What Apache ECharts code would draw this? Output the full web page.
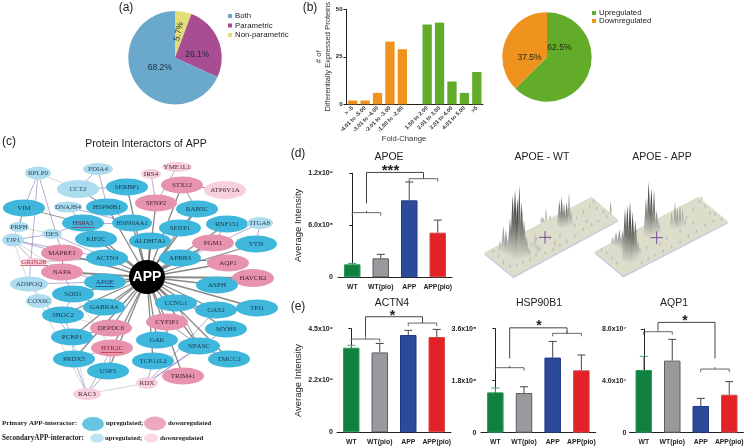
<!DOCTYPE html>
<html><head><meta charset="utf-8">
<style>html,body{margin:0;padding:0;background:#fff}#c{width:748px;height:447px}</style>
<script src="https://cdn.jsdelivr.net/npm/echarts@6/dist/echarts.min.js"></script>
</head><body><div id="c"></div>
<script>
// ---------- (a) pie
const pieANames = ['Non-parametric','Parametric','Both'];
const pieAValues = [5.7,26.1,68.2];
const pieAColors = ['#E2DE78','#A84C93','#6AA9CC'];
// ---------- (b)
const foldLabels = ['> -5','-4.01 to -5.00','-3.01 to -4.00','-2.01 to -3.00','-1.50 to -2.00','','1.50 to 2.00','2.01 to 3.00','3.01 to 4.00','4.01 to 5.00','>5'];
const foldValues = [2,2,6,33,29,null,42,43,12,6,17];
const foldColors = ['#F0921E','#F0921E','#F0921E','#F0921E','#F0921E','#fff','#62AC2A','#62AC2A','#62AC2A','#62AC2A','#62AC2A'];
const pieBNames = ['Upregulated','Downregulated'];
const pieBValues = [62.5,37.5];
const pieBColors = ['#62AC2A','#F0921E'];
// ---------- (d)(e) bars
const groups = ['WT','WT(pio)','APP','APP(pio)'];
const groupFill = ['#0F8040','#9A9A9E','#2B4A9A','#E32227'];
const groupEdge = ['#2E9A5A','#5E5E62','#1E3A86','#D04A4A'];
const apoeMean = [0.15e9,0.219e9,0.888e9,0.515e9];
const apoeErr  = [0.16e9,0.265e9,1.10e9,0.66e9];
const actn4Mean = [3.675e9,3.47e9,4.225e9,4.14e9];
const actn4Err  = [3.78e9,3.86e9,4.43e9,4.47e9];
const hspMean = [1.396e8,1.373e8,2.6e8,2.158e8];
const hspErr  = [1.546e8,1.59e8,3.16e8,2.69e8];
const aqpMean = [4.84e7,5.56e7,2.06e7,2.93e7];
const aqpErr  = [5.89e7,7.2e7,2.65e7,3.94e7];
const apoeTicks = ['0','6.0x10⁸','1.2x10⁹'];
const actn4Ticks = ['0','2.2x10⁹','4.5x10⁹'];
const hspTicks = ['0','1.8x10⁸','3.6x10⁸'];
const aqpTicks = ['0','4.0x10⁷','8.0x10⁷'];
// brackets: [from,to,y] and main [from,to,y,leftEnd,rightEnd]
const apoeSub = [[0,1,0.746e9],[2,3,1.138e9]];
const apoeMain = [[0.5,2.5,1.21e9,0.854e9,1.138e9]];
const actn4Sub = [[0,1,4.05e9],[2,3,4.745e9]];
const actn4Main = [[0.5,2.5,5.02e9,4.15e9,4.745e9]];
const hspSub = [[0,1,2.25e8],[2,3,3.44e8]];
const hspMain = [[0.5,2.5,3.63e8,2.57e8,3.44e8]];
const aqpSub = [[0,1,7.79e7],[2,3,4.91e7]];
const aqpMain = [[0.5,2.5,8.51e7,7.95e7,5.73e7]];
// ---------- (c) network
const nodeNames = ['RPLP0','PDIA4','CCT2','SERBP1','VIM','DNAJB4','HSP90B1','HSPA5','HSP90AA1','PRPH','DES','TJP1','KIF2C','ACTN4','MAPRE1','GRIN2B','NAPA','APOE','ADIPOQ','SOD1','COX6C','GABRA4','SHOC2','DEPDC6','PCBP1','HTR2C','PRDX5','USP5','RAC3','YME1L1','IRS4','STX12','ATP6V1A','SENP2','RAB5C','RNF151','SENP1','ITGA8','ALDH7A1','PGM1','VTN','APBB3','AQP1','HAVCR2','ASPH','CCNG1','TPI1','GAS2','CYFIP1','MYH9','GAK','NFASC','TMCC2','TCP11L2','TRIM41','RDX','APP'];
const nodeX = [38,98,78,127,24,68,107,83,132,19,52,13,96,107,62,34,62,105,29,73,39,104,63,111,72,112,74,108,87,177,151,182,225,156,197,227,180,260,150,213,256,180,228,253,217,176,257,216,167,226,157,199,229,153,183,147,147];
const nodeY = [173,169,189,187,208,207,207,223,223,227,234,240,239,258,253,262,272,282,284,294,301,307,315,328,337,348,359,371,394,167,174,185,190,203,209,224,228,223,241,243,244,258,263,278,285,303,308,310,322,329,340,346,359,361,376,383,277];
const nodeKind = ['S','S','S','P','P','S','P','P','P','S','S','S','P','P','D','L','D','P','S','P','S','P','P','D','P','D','P','P','L','L','L','D','L','D','P','P','P','S','P','D','P','P','D','D','P','P','P','P','D','P','P','P','P','P','D','L','A'];
const customSize = {RPLP0:[26,13],PDIA4:[30,12],CCT2:[42,18],DNAJB4:[28,11],PRPH:[20,10],DES:[20,10],TJP1:[22,13],GRIN2B:[27,8],ADIPOQ:[38,15],COX6C:[26,14],RAC3:[28,12],YME1L1:[30,10],IRS4:[20,10],ATP6V1A:[42,18],ITGA8:[26,12],RDX:[22,12],HAVCR2:[42,18],APP:[36,34],HSP90AA1:[40,17]};
const underlined = ['HSPA5','GRIN2B','APOE','HTR2C'];
const appTargets = ['SERBP1','HSP90B1','HSPA5','HSP90AA1','KIF2C','ACTN4','MAPRE1','NAPA','APOE','SOD1','GABRA4','SHOC2','DEPDC6','PCBP1','HTR2C','PRDX5','USP5','STX12','SENP2','RAB5C','RNF151','SENP1','ALDH7A1','PGM1','VTN','APBB3','AQP1','HAVCR2','ASPH','CCNG1','TPI1','GAS2','CYFIP1','MYH9','GAK','NFASC','TMCC2','TCP11L2','TRIM41'];
const blackLinks = [['VIM','HSPA5'],['STX12','RAB5C'],['RAB5C','SENP1'],['RNF151','PGM1'],['PGM1','APBB3'],['AQP1','APBB3'],['NFASC','CCNG1'],['NFASC','TMCC2'],['GAS2','CCNG1'],['CYFIP1','NFASC'],['STX12','ATP6V1A'],['SOD1','GABRA4'],['PCBP1','DEPDC6'],['VIM','PRPH'],['MAPRE1','NAPA']];
const purpleLinks = [['RPLP0','MAPRE1'],['RPLP0','ADIPOQ'],['ADIPOQ','PCBP1'],['CCT2','PDIA4'],['PDIA4','HSP90B1'],['CCT2','SERBP1'],['CCT2','HSP90AA1'],['CCT2','HSP90B1'],['DNAJB4','HSPA5'],['DNAJB4','HSP90AA1'],['HSPA5','HSP90AA1'],['VIM','RPLP0'],['TJP1','DES'],['TJP1','MAPRE1'],['TJP1','ACTN4'],['DES','HSPA5'],['DES','ACTN4'],['GRIN2B','TJP1'],['GRIN2B','APOE'],['GRIN2B','ACTN4'],['ADIPOQ','APOE'],['PRDX5','RAC3'],['USP5','RAC3'],['HTR2C','RAC3'],['RDX','GAS2'],['RDX','MYH9'],['RDX','NFASC'],['RDX','TCP11L2'],['IRS4','SENP2'],['YME1L1','SENP2'],['ITGA8','VTN'],['ITGA8','APP'],['SOD1','SHOC2'],['SHOC2','PCBP1'],['PCBP1','PRDX5'],['NAPA','SOD1'],['HTR2C','USP5'],['HTR2C','PRDX5']];
const grayLinks = [['RPLP0','CCT2'],['PRPH','DES'],['TJP1','ADIPOQ'],['TJP1','NAPA'],['VIM','TJP1'],['COX6C','RAC3'],['PCBP1','RAC3'],['RAC3','RDX'],['SHOC2','DEPDC6'],['SOD1','HTR2C']];
const legendMarkX = [93,155,97,151];
const legendMarkY = [424,423.5,438,438];
const legendMarkKind = ['P','D','S','L'];
const legendMarkSize = [[22,14],[22,14],[14,9],[14,9]];
// ---------- 3D peak plates (picture units)
const plates = [[72,338,160,410,475,240,395,170],[403,335,490,408,805,245,715,170]];
const crosses = [[255,292],[590,293]];
const wtSpikes = [[120,335,300,6,.2],[130,340,258,8,.35],[138,345,268,8,.4],[150,350,235,9,.55],[158,355,165,9,.85],[165,358,150,10,.95],[172,358,175,9,1],[178,360,135,8,.85],[185,360,185,10,.75],[192,358,240,10,.5],[200,355,290,9,.3],[208,350,320,7,.2],[232,340,312,6,.2],[240,335,318,5,.2],[225,330,270,5,.15],[245,248,230,6,.2],[258,245,205,4,.3],[250,250,232,5,.25],[270,240,225,5,.2],[285,320,298,5,.15],[298,262,180,7,.6],[305,265,170,7,.75],[312,265,190,7,.55],[320,262,185,7,.7],[327,260,158,5,.55],[333,258,210,6,.3],[452,225,182,4,.45]];
const appSpikes = [[458,315,290,7,.2],[468,320,275,9,.3],[478,325,268,9,.4],[488,335,270,8,.45],[495,365,205,9,.75],[502,370,195,9,.9],[510,370,185,9,1],[518,370,215,9,.9],[526,365,240,9,.65],[534,355,300,8,.3],[540,345,320,6,.15],[558,290,175,8,.55],[566,292,125,8,.9],[574,292,145,8,.95],[582,290,150,7,.75],[590,285,210,8,.4],[597,280,240,6,.2],[635,265,215,6,.3],[645,268,185,5,.5],[652,268,205,6,.45],[660,265,195,5,.45],[668,262,205,5,.3],[676,258,235,5,.2]];
const wtNoise = [[100,340,328],[115,355,342],[130,375,360],[150,385,374],[170,382,368],[190,372,360],[210,365,350],[228,352,338],[255,345,332],[280,335,320],[300,322,310],[320,310,296],[345,295,283],[370,275,262],[395,260,248],[415,250,238],[440,235,224],[350,240,228],[370,225,210],[390,205,192],[400,190,178],[410,212,198],[430,222,208],[300,292,280],[270,300,288],[230,305,292],[215,320,305],[345,262,250],[380,250,238]];
const appNoise = [[425,335,322],[440,345,332],[455,360,348],[470,375,362],[545,375,362],[565,362,350],[585,352,338],[610,340,326],[635,328,314],[660,312,300],[685,295,282],[710,280,268],[735,262,250],[760,250,238],[785,245,232],[700,215,202],[720,190,178],[735,205,192],[750,225,212],[680,238,226],[660,280,268],[620,300,288],[600,320,306],[560,330,318],[530,280,268],[700,255,242],[725,180,168],[765,228,216]];
// ---------- free text
const texts = [
 ['(a)',126,8,12,'normal','center','#222','Liberation Sans'],['(b)',310,8,12,'normal','center','#222','Liberation Sans'],
 ['(c)',9,142,12,'normal','center','#222','Liberation Sans'],['(d)',298,154,12,'normal','center','#222','Liberation Sans'],
 ['(e)',298,307,12,'normal','center','#222','Liberation Sans'],
 ['Protein Interactors of APP',146,144,10.5,'normal','center','#222','Liberation Sans'],
 ['Fold-Change',404,139,7.7,'normal','center','#333','Liberation Sans'],
 ['APOE',389,157,10.5,'normal','center','#222','Liberation Sans'],['ACTN4',392,303,10.5,'normal','center','#222','Liberation Sans'],
 ['HSP90B1',539,303,10.5,'normal','center','#222','Liberation Sans'],['AQP1',674,303,10.5,'normal','center','#222','Liberation Sans'],
 ['APOE - WT',542,157,10.5,'normal','center','#222','Liberation Sans'],['APOE - APP',662,157,10.5,'normal','center','#222','Liberation Sans'],
 ['***',390.5,171,15,'bold','center','#222','Liberation Sans'],['*',392.5,316,14,'bold','center','#222','Liberation Sans'],
 ['*',539,326,14,'bold','center','#222','Liberation Sans'],['*',685,321,14,'bold','center','#222','Liberation Sans'],
 ['Primary APP-interactor:',2,423,7,'bold','left','#222','Liberation Serif'],['upregulated;',106,423,6.8,'bold','left','#222','Liberation Serif'],['downregulated',168,423,6.8,'bold','left','#222','Liberation Serif'],
 ['SecondaryAPP-interactor:',2,438,7.2,'bold','left','#222','Liberation Serif'],['upregulated;',105,438,6.8,'bold','left','#222','Liberation Serif'],['downregulated',160,438,6.8,'bold','left','#222','Liberation Serif']
];

// ---------- builders
const SANS='Liberation Sans';
const ELL='path://M0 50A50 50 0 1 1 100 50A50 50 0 1 1 0 50Z';
const kindStyle={P:{c:'#3FB6DB',t:'#143a4e',s:[42,17]},D:{c:'#E793AD',t:'#4a1c2c',s:[42,17]},S:{c:'#AEDCEF',t:'#2a4a5e',s:[30,13]},L:{c:'#F7CFDF',t:'#4a2a36',s:[30,12]},A:{c:'#000',t:'#fff',s:[36,34]}};
const ulColor={HSPA5:'#A0303F',GRIN2B:'#C22D3E',APOE:'#1C3A70',HTR2C:'#B3202F'};
const textColor={GRIN2B:'#B8283A',HTR2C:'#A02030',HSPA5:'#5a2a50',APOE:'#1C3A70'};
const nodes=nodeNames.map((n,i)=>{const k=kindStyle[nodeKind[i]];return {name:n,value:[nodeX[i],nodeY[i]],symbol:ELL,symbolSize:customSize[n]||k.s,itemStyle:{color:k.c},
 label:{show:true,position:'inside',formatter:n,color:textColor[n]||k.t,fontFamily:n==='APP'?SANS:'Liberation Serif',fontSize:n==='APP'?14:(n.length>7?6.6:7),fontWeight:n==='APP'?'bold':'normal'}};});
const links=[];
appTargets.forEach(t=>links.push({source:'APP',target:t,lineStyle:{color:'#111',width:(t==='NAPA'||t==='HAVCR2')?2:1.3}}));
blackLinks.forEach(l=>links.push({source:l[0],target:l[1],lineStyle:{color:'#111',width:.9}}));
purpleLinks.forEach(l=>links.push({source:l[0],target:l[1],lineStyle:{color:'#5B4A9E',width:.9}}));
grayLinks.forEach(l=>links.push({source:l[0],target:l[1],lineStyle:{color:'#9c9a98',width:.8}}));

const panels=[
 {mean:apoeMean,err:apoeErr,ticks:apoeTicks,sub:apoeSub,main:apoeMain,left:338,top:173.3,w:114,h:104,max:1.2e9,iv:6e8},
 {mean:actn4Mean,err:actn4Err,ticks:actn4Ticks,sub:actn4Sub,main:actn4Main,left:337,top:328.7,w:114,h:103.6,max:4.5e9,iv:2.25e9},
 {mean:hspMean,err:hspErr,ticks:hspTicks,sub:hspSub,main:hspMain,left:481,top:328.7,w:114.7,h:104,max:3.6e8,iv:1.8e8},
 {mean:aqpMean,err:aqpErr,ticks:aqpTicks,sub:aqpSub,main:aqpMain,left:629.5,top:329,w:114,h:103.7,max:8e7,iv:4e7}
];
const grids=[{left:346.5,top:9.3,width:136.5,height:95}];
const xAxes=[{type:'category',gridIndex:0,data:foldLabels,axisTick:{show:false},axisLine:{lineStyle:{color:'#222',width:1}},
  axisLabel:{interval:0,rotate:45,fontSize:5.6,margin:3,color:'#333',fontFamily:SANS,fontWeight:'bold'}}];
const yAxes=[{type:'value',gridIndex:0,min:0,max:50,interval:25,splitLine:{show:false},axisLine:{show:true,lineStyle:{color:'#222'}},axisTick:{show:true,length:3,lineStyle:{color:'#222'}},
  axisLabel:{fontSize:6,fontWeight:'bold',margin:4,color:'#222',fontFamily:SANS},
  name:'# of\nDifferentially Expressed Proteins',nameLocation:'middle',nameRotate:90,nameGap:13,nameTextStyle:{fontSize:7.6,lineHeight:9,color:'#333',fontFamily:SANS}}];
const series=[
 {type:'pie',center:[175,57.7],radius:[0,46.7],startAngle:90,clockwise:true,data:pieANames.map((n,i)=>({name:n,value:pieAValues[i],itemStyle:{color:pieAColors[i]},
   label:n==='Non-parametric'?{rotate:78,offset:[0,-1]}:(n==='Both'?{offset:[7,-4]}:{offset:[-2,7]})})),
   label:{position:'inside',formatter:p=>p.value+'%',fontSize:8.5,color:'#1d2a3a',fontFamily:SANS},labelLine:{show:false},silent:true,animation:false},
 {type:'pie',center:[547,57],radius:[0,44.7],startAngle:90,clockwise:true,data:pieBNames.map((n,i)=>({name:n,value:pieBValues[i],itemStyle:{color:pieBColors[i]},
   label:n==='Upregulated'?{offset:[-11,-19]}:{offset:[6,10]}})),
   label:{position:'inside',formatter:p=>p.value+'%',fontSize:8.5,color:'#1f2a12',fontFamily:SANS},labelLine:{show:false},silent:true,animation:false},
 {type:'bar',xAxisIndex:0,yAxisIndex:0,barWidth:9.3,data:foldValues.map((v,i)=>({value:v,itemStyle:{color:foldColors[i]}})),silent:true,animation:false}
];
panels.forEach((p,i)=>{
 const g=i+1;
 grids.push({left:p.left,top:p.top,width:p.w,height:p.h});
 xAxes.push({type:'category',gridIndex:g,data:groups,axisTick:{show:false},axisLine:{lineStyle:{color:'#222'}},
  axisLabel:{interval:0,fontSize:6.8,fontWeight:'bold',margin:6,color:'#222',fontFamily:SANS}});
 yAxes.push({type:'value',gridIndex:g,min:0,max:p.max,interval:p.iv,offset:p.left-(i===2?478.3:i===3?628.3:335),splitLine:{show:false},axisLine:{show:true,lineStyle:{color:'#222'}},axisTick:{show:true,length:3,lineStyle:{color:'#222'}},
  axisLabel:{fontSize:7,fontWeight:'bold',margin:2,color:'#222',fontFamily:SANS,formatter:(v,k)=>p.ticks[k]},
  name:(i<2)?'Average Intensity':'',nameLocation:'middle',nameRotate:90,nameGap:32,nameTextStyle:{fontSize:9.5,color:'#222',fontFamily:SANS}});
});
// hidden value x axes for annotations in bar panels
panels.forEach((p,i)=>{xAxes.push({type:'value',gridIndex:i+1,min:-0.5,max:3.5,show:false});});
// network + peak grids
grids.push({left:0,top:0,width:270,height:447});
xAxes.push({type:'value',gridIndex:5,min:0,max:270,show:false});
yAxes.push({type:'value',gridIndex:5,min:0,max:447,inverse:true,show:false});
grids.push({left:460,top:140,width:288,height:155});
xAxes.push({type:'value',gridIndex:6,min:0,max:864,show:false});
yAxes.push({type:'value',gridIndex:6,min:0,max:465,inverse:true,show:false});

panels.forEach((p,i)=>{
 const g=i+1, vx=5+i;
 series.push({type:'bar',xAxisIndex:g,yAxisIndex:g,barWidth:16.5,silent:true,animation:false,
  data:p.mean.map((v,k)=>({value:v,itemStyle:{color:groupFill[k],borderColor:groupEdge[k],borderWidth:1}}))});
 series.push({type:'custom',xAxisIndex:g,yAxisIndex:g,silent:true,animation:false,z:1,
  data:p.err.map((e,k)=>[k,p.mean[k],e]),encode:{x:0,y:[1,2]},
  renderItem:(par,api)=>{const k=api.value(0),a=api.coord([k,api.value(1)]),b=api.coord([k,api.value(2)]);
   const st={stroke:k===0?'#4BA06E':'#444',lineWidth:1,fill:null};
   return {type:'group',children:[{type:'line',shape:{x1:a[0],y1:a[1],x2:b[0],y2:b[1]},style:st},{type:'line',shape:{x1:a[0]-4,y1:b[1],x2:a[0]+4,y2:b[1]},style:st}]};}});
 series.push({type:'custom',xAxisIndex:vx,yAxisIndex:g,silent:true,animation:false,z:3,
  data:p.sub,encode:{x:[0,1],y:2},
  renderItem:(par,api)=>{const a=api.coord([api.value(0),api.value(2)]),b=api.coord([api.value(1),api.value(2)]);
   const st={stroke:'#555',lineWidth:.9,fill:null};
   return {type:'group',children:[{type:'polyline',shape:{points:[[a[0],a[1]+3],a,b,[b[0],b[1]+3]]},style:st},
    {type:'line',shape:{x1:(a[0]+b[0])/2,y1:a[1],x2:(a[0]+b[0])/2,y2:a[1]-2},style:st}]};}});
 series.push({type:'custom',xAxisIndex:vx,yAxisIndex:g,silent:true,animation:false,z:3,
  data:p.main,encode:{x:[0,1],y:2},
  renderItem:(par,api)=>{const y=api.value(2),a=api.coord([api.value(0),y]),b=api.coord([api.value(1),y]),l=api.coord([api.value(0),api.value(3)]),r=api.coord([api.value(1),api.value(4)]);
   return {type:'polyline',shape:{points:[l,a,b,r]},style:{stroke:'#444',lineWidth:1,fill:null}};}});
});
// network
series.push({type:'graph',coordinateSystem:'cartesian2d',xAxisIndex:9,yAxisIndex:5,layout:'none',silent:true,animation:false,z:2,data:nodes,links:links,edgeSymbol:['none','none'],emphasis:{disabled:true}});
series.push({type:'scatter',xAxisIndex:9,yAxisIndex:5,silent:true,animation:false,z:5,symbol:'rect',
 data:underlined.map(n=>{const i=nodeNames.indexOf(n);return {value:[nodeX[i],nodeY[i]],symbolSize:[n.length*4.6,.8],symbolOffset:[0,n==='GRIN2B'?3.6:4.6],itemStyle:{color:ulColor[n]}};})});
series.push({type:'scatter',xAxisIndex:9,yAxisIndex:5,silent:true,animation:false,symbol:ELL,
 data:legendMarkX.map((x,i)=>({value:[x,legendMarkY[i]],symbolSize:legendMarkSize[i],itemStyle:{color:kindStyle[legendMarkKind[i]].c}}))});
// peaks
series.push({type:'custom',xAxisIndex:10,yAxisIndex:6,silent:true,animation:false,z:1,data:plates,encode:{x:0,y:1},
 renderItem:(par,api)=>{const pts=[0,2,4,6].map(j=>api.coord([api.value(j),api.value(j+1)]));
  const low=pts.map(q=>[q[0],q[1]+1.6]);
  return {type:'group',children:[{type:'polygon',shape:{points:low},style:{fill:'#C9C6DE'}},{type:'polygon',shape:{points:pts},style:{fill:'#DDDDCC'}}]};}});
function spikeSeries(rows,z,fixedW,fixedTone){
 return {type:'custom',xAxisIndex:10,yAxisIndex:6,silent:true,animation:false,z:z,data:rows,encode:{x:0,y:1},
  renderItem:(par,api)=>{const x=api.value(0),base=api.coord([x,api.value(1)]),top=api.coord([x,api.value(2)]);
   const hw=(fixedW||api.value(3))/3, tone=fixedTone||api.value(4);
   const c=Math.round(205-tone*185);
   return {type:'polygon',shape:{points:[[base[0]-hw,base[1]],top,[base[0]+hw,base[1]]]},
    style:{fill:new echarts.graphic.LinearGradient(0,0,0,1,[{offset:0,color:'rgb('+c+','+c+','+c+')'},{offset:.55,color:'rgb('+Math.round(c*.5+105)+','+Math.round(c*.5+105)+','+Math.round(c*.5+100)+')'},{offset:1,color:'#DDDDCC'}])}};}};
}
series.push(spikeSeries(wtNoise,2,4,.22),spikeSeries(appNoise,2,4,.22),spikeSeries(wtSpikes,3),spikeSeries(appSpikes,3));
series.push({type:'custom',xAxisIndex:10,yAxisIndex:6,silent:true,animation:false,z:4,data:crosses,encode:{x:0,y:1},
 renderItem:(par,api)=>{const x=api.value(0),y=api.value(1),a=api.coord([x-19,y]),b=api.coord([x+19,y]),c=api.coord([x,y-19]),d=api.coord([x,y+19]);
  const st={stroke:'#7A4C9E',lineWidth:1,fill:null};
  return {type:'group',children:[{type:'line',shape:{x1:a[0],y1:a[1],x2:b[0],y2:b[1]},style:st},{type:'line',shape:{x1:c[0],y1:c[1],x2:d[0],y2:d[1]},style:st}]};}});

const option={animation:false,backgroundColor:'#fff',textStyle:{fontFamily:SANS},
 grid:grids,xAxis:xAxes,yAxis:yAxes,series:series,
 legend:[
  {left:228,top:12,padding:0,orient:'vertical',itemWidth:4,itemHeight:4,itemGap:1.5,icon:'rect',data:['Both','Parametric','Non-parametric'],textStyle:{fontSize:7.8,lineHeight:8,color:'#222',padding:[0,0,0,-2]},selectedMode:false},
  {left:592,top:9,padding:0,orient:'vertical',itemWidth:4,itemHeight:4,itemGap:0,icon:'rect',data:pieBNames,textStyle:{fontSize:7.8,lineHeight:8,color:'#222',padding:[0,0,0,-2]},selectedMode:false}
 ],
 graphic:texts.map(t=>({type:'text',x:t[1],y:t[2],silent:true,z:50,style:{text:t[0],font:t[4]+' '+t[3]+'px "'+t[7]+'"',fill:t[6],textAlign:t[5],textVerticalAlign:'middle'}}))
};
echarts.init(document.getElementById('c'),null,{renderer:'canvas'}).setOption(option);
</script></body></html>
